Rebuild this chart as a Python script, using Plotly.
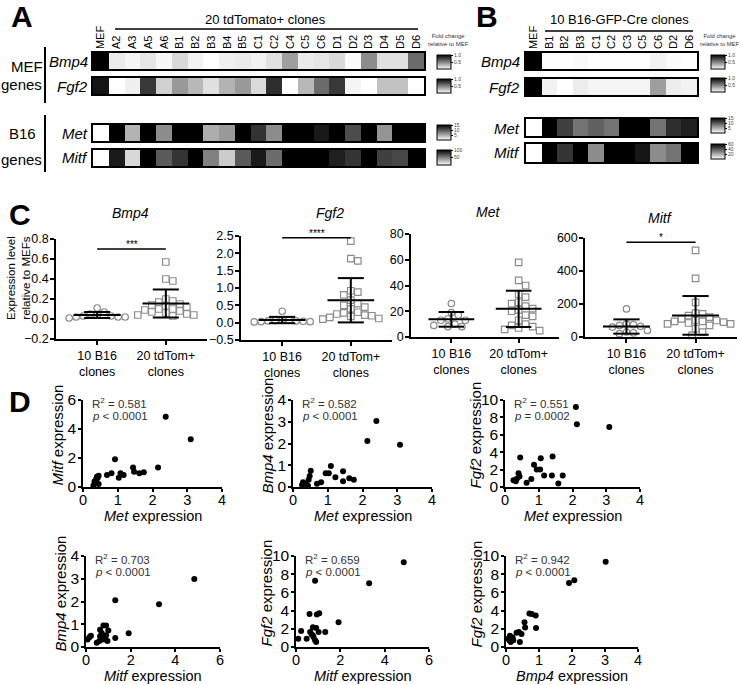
import numpy as np
import plotly.graph_objects as go

W, H = 741, 685
FONT = "Liberation Sans, Arial, Helvetica, sans-serif"

# ---------------- Panel A data (fold change relative to MEF) ----------------
a_clones = ["MEF", "A2", "A3", "A5", "A6", "B1", "B2", "B3", "B4", "B5", "C1", "C2",
            "C4", "C5", "C6", "D1", "D2", "D3", "D4", "D5", "D6"]
a_bmp4 = [1.0, 0.08, 0.04, 0.10, 0.03, 0.15, 0.05, 0.0, 0.06, 0.08, 0.05, 0.12,
          0.38, 0.08, 0.10, 0.15, 0.02, 0.45, 0.12, 0.12, 0.58]
a_fgf2 = [0.92, 0.0, 0.06, 0.78, 0.18, 0.40, 0.28, 0.12, 0.30, 0.40, 0.14, 0.82,
          0.0, 0.28, 0.58, 0.78, 0.04, 0.0, 0.24, 0.24, 0.0]
a_met = [1, 18, 5.2, 17, 7.3, 20, 16, 5.5, 6.6, 19, 12.2, 7.3, 17, 16, 13.6, 18,
         10.8, 16, 6.9, 17, 18]
a_mitf = [1, 90, 16, 110, 65, 80, 120, 50, 21, 65, 90, 58, 105, 115, 100, 88, 80,
          130, 75, 72, 110]

# ---------------- Panel B data ----------------
b_clones = ["MEF", "B1", "B2", "B3", "C1", "C2", "C3", "C5", "C6", "D2", "D6"]
b_bmp4 = [1.0, 0.0, 0.0, 0.02, 0.0, 0.0, 0.0, 0.0, 0.05, 0.02, 0.0]
b_fgf2 = [1.0, 0.05, 0.0, 0.07, 0.04, 0.04, 0.04, 0.04, 0.38, 0.07, 0.05]
b_met = [1, 16, 11.5, 8.7, 9.7, 8.7, 17, 16, 8.7, 12.5, 13.3]
b_mitf = [1, 62, 48, 65, 27.5, 63, 61, 55, 27.5, 33.5, 64]

# ---------------- Panel C data ----------------
c_groups = ["10 B16<br>clones", "20 tdTom+<br>clones"]
c_bmp4_b16 = [0.11, 0.07, 0.05, 0.04, 0.03, 0.03, 0.02, 0.02, 0.01, 0.02]
c_bmp4_tdtom = [0.57, 0.40, 0.38, 0.20, 0.18, 0.17, 0.15, 0.14, 0.13, 0.12, 0.10,
                0.10, 0.09, 0.08, 0.07, 0.06, 0.05, 0.04, 0.04, 0.03]
c_fgf2_b16 = [0.33, 0.08, 0.07, 0.06, 0.05, 0.05, 0.04, 0.03, 0.03, 0.02]
c_fgf2_tdtom = [2.35, 1.85, 1.78, 0.92, 0.88, 0.80, 0.65, 0.55, 0.50, 0.45, 0.40,
                0.30, 0.28, 0.25, 0.22, 0.20, 0.18, 0.15, 0.12, 0.10]
c_met_b16 = [26, 19, 17, 14, 13, 13, 10, 9, 8, 8]
c_met_tdtom = [58, 44, 40, 33, 31, 27, 26, 24, 22, 21, 20, 17, 16, 13, 10, 9, 8, 7, 6, 5]
c_mitf_b16 = [170, 80, 75, 70, 65, 60, 40, 30, 25, 20]
c_mitf_tdtom = [525, 355, 210, 145, 140, 130, 120, 110, 100, 100, 95, 95, 90, 85,
                80, 80, 70, 50, 30, 10]

# ---------------- Panel D data ----------------
d1_met = [2.38, 3.10, 2.16, 1.75, 1.62, 1.44, 1.47, 1.17, 1.08, 1.03, 0.92, 0.82,
          0.69, 0.45, 0.42, 0.38, 0.33, 0.45, 0.30, 0.40]
d1_mitf = [4.85, 3.30, 1.34, 1.01, 0.94, 1.34, 1.06, 0.82, 0.94, 0.64, 1.92, 0.94,
           0.82, 0.78, 0.62, 0.55, 0.38, 0.20, 0.10, 0.70]
d2_met = [2.40, 2.14, 3.08, 1.09, 0.94, 1.03, 1.22, 1.44, 1.44, 1.62, 1.75, 0.51,
          0.48, 0.45, 0.29, 0.36, 0.43, 0.69, 0.81, 0.26]
d2_bmp4 = [3.03, 2.12, 1.94, 0.96, 0.63, 0.63, 0.45, 0.72, 0.27, 0.40, 0.33, 0.75,
           0.51, 0.33, 0.22, 0.15, 0.06, 0.15, 0.22, 0.09]
d3_met = [2.10, 2.13, 3.09, 0.45, 1.41, 1.06, 0.86, 0.94, 1.04, 1.16, 1.39, 1.71,
          1.58, 0.78, 0.64, 0.40, 0.43, 0.35, 0.25, 0.32]
d3_fgf2 = [9.2, 7.2, 6.9, 3.4, 3.5, 3.3, 2.56, 2.0, 2.0, 1.32, 1.32, 1.32, 0.4,
           0.92, 0.48, 1.57, 1.2, 0.95, 0.77, 0.66]
d4_mitf = [4.85, 3.27, 1.31, 1.91, 1.31, 0.90, 0.78, 1.00, 0.63, 0.70, 0.63, 0.90,
           0.78, 0.60, 0.48, 0.96, 0.15, 0.22, 0.07, 0.85]
d4_bmp4 = [2.99, 1.88, 2.06, 0.60, 0.40, 0.95, 0.95, 0.72, 0.76, 0.62, 0.47, 0.52,
           0.33, 0.26, 0.19, 0.26, 0.43, 0.50, 0.33, 0.40]
d5_mitf = [0.86, 4.86, 3.30, 1.92, 1.32, 0.61, 0.94, 1.05, 0.76, 0.91, 0.64, 1.02,
           0.48, 0.79, 0.86, 0.91, 0.23, 0.10, 0.76, 0.70]
d5_fgf2 = [7.27, 9.30, 7.00, 2.73, 1.64, 3.64, 3.56, 3.70, 2.18, 2.10, 1.64, 1.64,
           0.90, 1.10, 0.73, 0.55, 1.75, 0.90, 1.27, 1.40]
d6_bmp4 = [3.02, 1.91, 2.07, 0.71, 0.78, 0.90, 0.56, 0.58, 0.91, 0.32, 0.39, 0.47,
           0.42, 0.12, 0.17, 0.10, 0.22, 0.14, 0.20, 0.07]
d6_fgf2 = [9.36, 7.04, 7.34, 3.67, 3.63, 3.45, 2.73, 2.13, 2.10, 1.57, 1.65, 1.42,
           0.56, 1.24, 0.94, 0.75, 0.75, 0.56, 1.05, 0.94]

# ======================================================================
fig = go.Figure()
layout = {}
annotations = []
shapes = []
_n = [0]


def add_axes(x0, x1, y0, y1, xa, ya):
    _n[0] += 1
    n = _n[0]
    sx = '' if n == 1 else str(n)
    xa = dict(xa, domain=[x0 / W, x1 / W], anchor='y' + sx)
    ya = dict(ya, domain=[1 - y1 / H, 1 - y0 / H], anchor='x' + sx)
    layout['xaxis' + sx] = xa
    layout['yaxis' + sx] = ya
    return 'x' + sx, 'y' + sx


def text(x, y, s, size, color='black', xanchor='center', yanchor='middle', **kw):
    annotations.append(dict(x=x / W, y=1 - y / H, xref='paper', yref='paper', text=s,
                            showarrow=False, font=dict(size=size, color=color, family=FONT),
                            xanchor=xanchor, yanchor=yanchor, **kw))


def pline(x0, y0, x1, y1, w=1.5):
    shapes.append(dict(type='line', xref='paper', yref='paper', x0=x0 / W, y0=1 - y0 / H,
                       x1=x1 / W, y1=1 - y1 / H, line=dict(color='black', width=w)))


GRAY = [[0, 'white'], [1, 'black']]


def heat(vals, labels, x0, x1, y0, y1, zmin, zmax, cbx, cby0, cby1, cbvals, cbtext, show_labels):
    n = len(vals)
    xr, yr = add_axes(
        x0, x1, y0, y1,
        dict(range=[-0.5, n - 0.5], side='top', showline=True, mirror=True, linecolor='black',
             linewidth=1.5, ticks='', showgrid=False, zeroline=False, tickmode='array',
             tickvals=list(range(n)), ticktext=labels, showticklabels=show_labels,
             tickangle=-90, tickfont=dict(size=11, family=FONT, color='black')),
        dict(range=[-0.5, 0.5], showline=True, mirror=True, linecolor='black', linewidth=1.5,
             showticklabels=False, ticks='', showgrid=False, zeroline=False))
    fig.add_trace(go.Heatmap(
        z=[vals], x=list(range(n)), y=[0], xaxis=xr, yaxis=yr, zmin=zmin, zmax=zmax,
        colorscale=GRAY, hoverinfo='skip',
        colorbar=dict(x=cbx / W, xanchor='left', xpad=0, y=1 - (cby0 + cby1) / 2 / H,
                      yanchor='middle', ypad=0, len=cby1 - cby0, lenmode='pixels',
                      thickness=14, thicknessmode='pixels', outlinewidth=1,
                      outlinecolor='black', tickvals=cbvals, ticktext=cbtext,
                      ticks='outside', ticklen=2, tickcolor='black',
                      tickfont=dict(size=5, family=FONT, color='#444'))))


# ---------------- Panel A ----------------
text(22, 16, "<b>A</b>", 30)
text(265, 20, "20 tdTomato+ clones", 13)
pline(115, 29, 418, 29)
text(449, 40, "Fold change<br>relative to MEF", 6, color='#333')
text(27, 66, "MEF", 15)
text(21, 84, "genes", 15)
pline(45, 47, 45, 103, 2)
text(22, 134, "B16", 15)
text(21, 159, "genes", 15)
pline(45, 115, 45, 172, 2)
for lab, yc in [("Bmp4", 61), ("Fgf2", 86), ("Met", 133), ("Mitf", 158)]:
    text(90, yc, "<i>%s</i>" % lab, 15, xanchor='right')

heat(a_bmp4, a_clones, 93, 424, 53, 69, 0, 1, 437, 55, 69, [0.5, 1.0], ["0.5", "1.0"], True)
heat(a_fgf2, a_clones, 93, 424, 78, 94, 0, 1, 437, 79, 93, [0.5, 1.0], ["0.5", "1.0"], False)
heat(a_met, a_clones, 93, 424, 125, 141, 1, 15, 437, 125, 140, [5, 10, 15], ["5", "10", "15"], False)
heat(a_mitf, a_clones, 93, 424, 150, 166, 1, 100, 437, 150, 165, [50, 100], ["50", "100"], False)

# ---------------- Panel B ----------------
text(487, 16, "<b>B</b>", 30)
text(619, 20, "10 B16-GFP-Cre clones", 13)
pline(545, 31, 693, 31)
text(719, 40, "Fold change<br>relative to MEF", 5.8, color='#333')
for lab, yc in [("Bmp4", 62), ("Fgf2", 87), ("Met", 128), ("Mitf", 153)]:
    text(522, yc, "<i>%s</i>" % lab, 15, xanchor='right')

heat(b_bmp4, b_clones, 526, 697, 53, 69, 0, 1, 711, 55, 69, [0.5, 1.0], ["0.5", "1.0"], True)
heat(b_fgf2, b_clones, 526, 697, 79, 95, 0, 1, 711, 78, 92, [0.5, 1.0], ["0.5", "1.0"], False)
heat(b_met, b_clones, 526, 697, 119, 136, 1, 15, 711, 118, 133, [5, 10, 15], ["5", "10", "15"], False)
heat(b_mitf, b_clones, 526, 697, 144, 162, 1, 60, 711, 144, 159, [20, 40, 60], ["20", "40", "60"], False)

# ---------------- Panel C ----------------
XR = [-0.6, 1.6]


def swarm(vals, ppu, unit, d=7.0):
    vals = np.asarray(vals, float)
    order = np.argsort(-vals)
    placed = []
    off = np.zeros(len(vals))
    cands = [0.0] + [s * j * d / 2 for j in range(1, 20) for s in (1, -1)]
    for i in order:
        y = vals[i] * ppu
        for c in cands:
            if all((c - px) ** 2 + (y - py) ** 2 >= d * d for px, py in placed):
                break
        placed.append((c, y))
        off[i] = c / unit
    return off


def dotplot(b16, tdt, x0, x1, y0, y1, yrange, dtick, fmt, title, tx, ty, sig=None):
    axis_common = dict(showline=True, linecolor='black', linewidth=1.5, ticks='outside',
                       ticklen=4, tickwidth=1.5, tickcolor='black', showgrid=False,
                       zeroline=False, tickfont=dict(size=12.5, family=FONT, color='black'))
    xr, yr = add_axes(x0, x1, y0, y1,
                      dict(axis_common, range=XR, tickmode='array', tickvals=[0, 1],
                           ticktext=c_groups),
                      dict(axis_common, range=yrange, dtick=dtick, tick0=0, tickformat=fmt,
                           ticklabelstandoff=-1))
    ppu = (y1 - y0) / (yrange[1] - yrange[0])
    unit = (x1 - x0) / (XR[1] - XR[0])
    for gi, (vals, sym) in enumerate([(b16, 'circle-open'), (tdt, 'square-open')]):
        xs = gi + swarm(vals, ppu, unit)
        fig.add_trace(go.Scatter(x=xs, y=vals, mode='markers', xaxis=xr, yaxis=yr,
                                 marker=dict(symbol=sym, size=6.5, color='#8c8c8c',
                                             line=dict(width=1.2, color='#8c8c8c')),
                                 cliponaxis=False, hoverinfo='skip'))
    lx, ly = [], []
    for gi, vals in enumerate([b16, tdt]):
        m = float(np.mean(vals))
        s = float(np.std(vals, ddof=1))
        lx += [gi - 0.34, gi + 0.34, None, gi, gi, None, gi - 0.19, gi + 0.19, None,
               gi - 0.19, gi + 0.19, None]
        ly += [m, m, None, m - s, m + s, None, m + s, m + s, None, m - s, m - s, None]
    fig.add_trace(go.Scatter(x=lx, y=ly, mode='lines', xaxis=xr, yaxis=yr,
                             line=dict(color='black', width=2), cliponaxis=False,
                             hoverinfo='skip'))
    text(tx, ty, "<i>%s</i>" % title, 14)
    if sig:
        ysig, stars = sig
        shapes.append(dict(type='line', xref=xr, yref=yr, x0=0, x1=1, y0=ysig, y1=ysig,
                           line=dict(color='black', width=1.5)))
        annotations.append(dict(x=0.5, y=ysig, xref=xr, yref=yr, text=stars, showarrow=False,
                                yanchor='bottom', yshift=-3,
                                font=dict(size=10, family=FONT, color='black')))


text(20, 214, "<b>C</b>", 30)
text(18, 278, "Expression level<br>relative to MEFs", 11.5, textangle=-90)
dotplot(c_bmp4_b16, c_bmp4_tdtom, 56, 207, 239, 339, [-0.2, 0.8], 0.2, '.1f', "Bmp4",
        130, 213, (0.70, '***'))
dotplot(c_fgf2_b16, c_fgf2_tdtom, 241, 392, 236, 340, [-0.5, 2.5], 0.5, '.1f', "Fgf2",
        330, 213, (2.45, '****'))
dotplot(c_met_b16, c_met_tdtom, 411, 559, 234, 337, [0, 80], 20, 'd', "Met",
        488, 212)
dotplot(c_mitf_b16, c_mitf_tdtom, 585, 737, 238, 337, [0, 600], 200, 'd', "Mitf",
        660, 218, (575, '*'))


# ---------------- Panel D ----------------
def scatter(xv, yv, x0, x1, y0, y1, xmax, ymax, xdt, ydt, xtitle, ytitle, r2, ptxt, yt_off):
    axis_common = dict(showline=True, linecolor='black', linewidth=1.5, ticks='outside',
                       ticklen=3, tickwidth=1.5, tickcolor='black', showgrid=False,
                       zeroline=False, tickfont=dict(size=14.5, family=FONT, color='black'))
    xr, yr = add_axes(x0, x1, y0, y1,
                      dict(axis_common, range=[0, xmax], dtick=xdt, tick0=0,
                           ticklabelstandoff=-4),
                      dict(axis_common, range=[0, ymax], dtick=ydt, tick0=0,
                           ticklabelstandoff=-1, tickfont=dict(size=15.5, family=FONT,
                                                               color='black')))
    fig.add_trace(go.Scatter(x=xv, y=yv, mode='markers', xaxis=xr, yaxis=yr,
                             marker=dict(size=6, color='black'), cliponaxis=False,
                             hoverinfo='skip'))
    text(x0 + 7, y0 + 3, "R<sup>2</sup> = %s" % r2, 11.5, color='#333', xanchor='left')
    text(x0 + 7, y0 + 16, "<i>p</i> %s" % ptxt, 11.5, color='#333', xanchor='left')
    text((x0 + x1) / 2, y1 + 29, xtitle, 14.5)
    text(x0 - yt_off, (y0 + y1) / 2 - 8, ytitle, 15, textangle=-90)


text(20, 401, "<b>D</b>", 30)
scatter(d1_met, d1_mitf, 83, 222, 400, 487, 4, 6, 1, 2, "<i>Met</i> expression",
        "<i>Mitf</i> expression", "0.581", "&lt; 0.0001", 26)
scatter(d2_met, d2_bmp4, 293, 432, 400, 487, 4, 4, 1, 1, "<i>Met</i> expression",
        "<i>Bmp4</i> expression", "0.582", "&lt; 0.0001", 26)
scatter(d3_met, d3_fgf2, 505, 640, 400, 487, 4, 10, 1, 2, "<i>Met</i> expression",
        "<i>Fgf2</i> expression", "0.551", "= 0.0002", 30)
scatter(d4_mitf, d4_bmp4, 86, 220, 556, 647, 6, 4, 2, 1, "<i>Mitf</i> expression",
        "<i>Bmp4</i> expression", "0.703", "&lt; 0.0001", 26)
scatter(d5_mitf, d5_fgf2, 296, 429, 556, 647, 6, 10, 2, 2, "<i>Mitf</i> expression",
        "<i>Fgf2</i> expression", "0.659", "&lt; 0.0001", 30)
scatter(d6_bmp4, d6_fgf2, 506, 638, 556, 647, 4, 10, 1, 2, "<i>Bmp4</i> expression",
        "<i>Fgf2</i> expression", "0.942", "&lt; 0.0001", 30)

layout.update(dict(width=W, height=H,
                   margin=dict(l=0, r=0, t=0, b=0, pad=0, autoexpand=False),
                   template='none',
                   paper_bgcolor='white', plot_bgcolor='rgba(0,0,0,0)', showlegend=False,
                   font=dict(family=FONT, color='black'), annotations=annotations,
                   shapes=shapes))
fig.update_layout(**layout)
fig.write_html("out.html", config={'displayModeBar': False},
               post_script="document.body.style.margin='0px';document.body.style.padding='0px';")
